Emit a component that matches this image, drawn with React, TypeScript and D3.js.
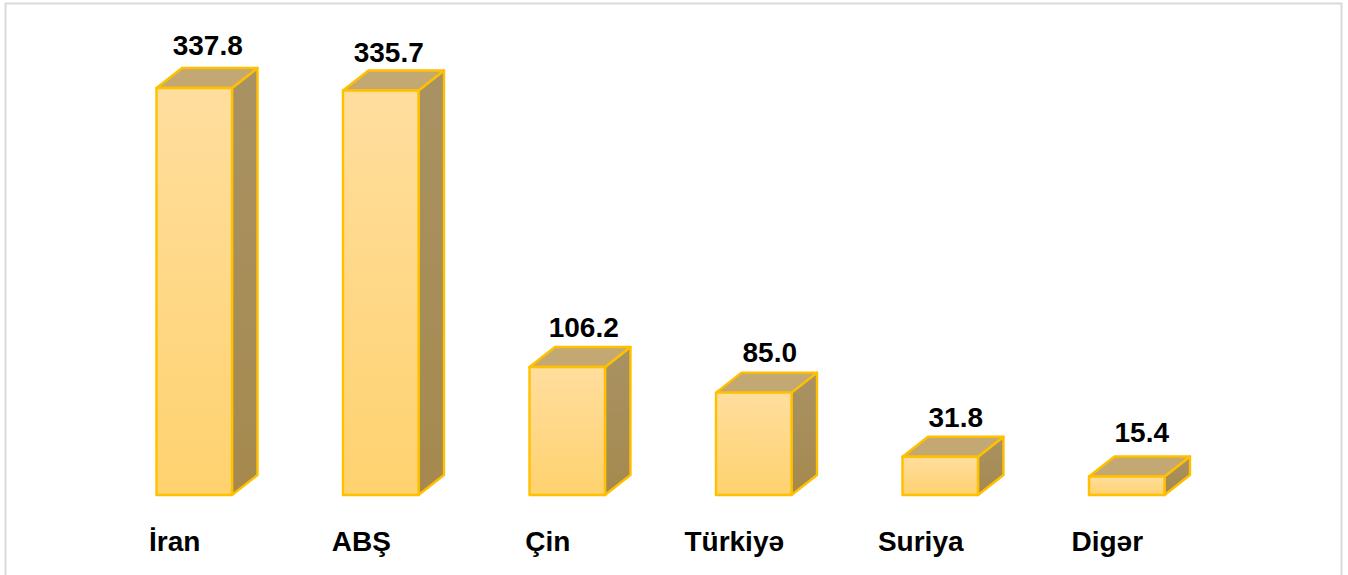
import React from "react";
import * as d3 from "d3";

const categories = ["İran", "ABŞ", "Çin", "Türkiyə", "Suriya", "Digər"];
const values = [337.8, 335.7, 106.2, 85.0, 31.8, 15.4];
const valueLabels = ["337.8", "335.7", "106.2", "85.0", "31.8", "15.4"];

const W = 1348;
const H = 575;
const BASE = 495;
const DX = 25.5;
const DY = 20;
const BAR_W = 75.5;
// hand-placed data label nudges seen in the source chart
const labelNudgeX = [13.5, 8, 16.5, 16, 15.5, 15];
const labelNudgeY = [-13, -8.5, -10, -11, -10, -14.5];

export default function App() {
  const x = d3.scaleLinear().domain([0, categories.length - 1]).range([156.5, 1089]);
  const y = d3.scaleLinear().domain([0, 337.8]).range([BASE, 88]);
  return (
    <svg width={W} height={H} style={{ position: "absolute", left: 0, top: 0, display: "block" }} fontFamily="'Liberation Sans', Arial, sans-serif">
      <defs>
        <linearGradient id="front" x1="0" y1="0" x2="0" y2="1">
          <stop offset="0" stopColor="#FFDE9E" />
          <stop offset="1" stopColor="#FFD26F" />
        </linearGradient>
        <linearGradient id="side" x1="0" y1="0" x2="0" y2="1">
          <stop offset="0" stopColor="#A99263" />
          <stop offset="1" stopColor="#A5894E" />
        </linearGradient>
      </defs>
      <rect x={0} y={0} width={W} height={H} fill="#fff" />
      <path d="M5.5 575V3.5H1341.5V575" fill="none" stroke="#D9D9D9" strokeWidth={2} />
      {values.map((v, i) => {
        const l = x(i);
        const r = l + BAR_W;
        const t = y(v);
        const front = d3.path();
        front.rect(l, t, BAR_W, BASE - t);
        const top = d3.path();
        top.moveTo(l, t);
        top.lineTo(l + DX, t - DY);
        top.lineTo(r + DX, t - DY);
        top.lineTo(r, t);
        top.closePath();
        const side = d3.path();
        side.moveTo(r, t);
        side.lineTo(r + DX, t - DY);
        side.lineTo(r + DX, BASE - DY);
        side.lineTo(r, BASE);
        side.closePath();
        const cx = l + BAR_W / 2;
        return (
          <g key={categories[i]}>
            <path d={side.toString()} fill="url(#side)" stroke="#FFC000" strokeWidth={2.4} strokeLinejoin="round" />
            <path d={top.toString()} fill="#C4A873" stroke="#FFC000" strokeWidth={2.4} strokeLinejoin="round" />
            <path d={front.toString()} fill="url(#front)" stroke="#FFC000" strokeWidth={2.4} strokeLinejoin="round" />
            <text x={cx + labelNudgeX[i]} y={t - DY + labelNudgeY[i]} textAnchor="middle" fontSize={28} fontWeight={700} fill="#000">
              {valueLabels[i]}
            </text>
            <text x={cx - 19.5} y={550.5} textAnchor="middle" fontSize={28} fontWeight={700} fill="#000">
              {categories[i]}
            </text>
          </g>
        );
      })}
    </svg>
  );
}
